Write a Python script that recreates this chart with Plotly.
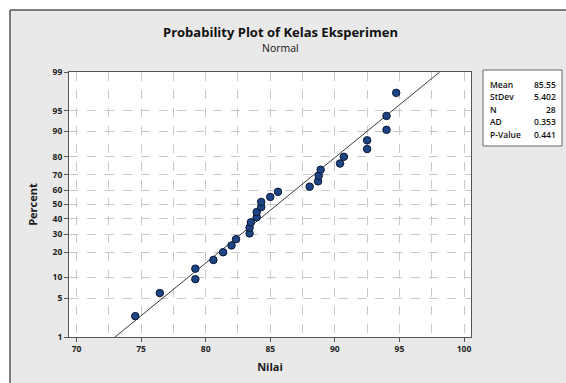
import plotly.graph_objects as go
from statistics import NormalDist

# ---- data ----
nilai = [74.55, 76.45, 79.2, 79.2, 80.6, 81.35, 82.0, 82.35, 83.4, 83.4, 83.5,
         83.95, 83.95, 84.3, 84.3, 85.0, 85.6, 88.05, 88.7, 88.75, 88.9, 90.4,
         90.7, 92.5, 92.5, 94.0, 94.0, 94.75]
percent = [2.5, 6.0, 9.5, 13.0, 16.5, 20.1, 23.6, 27.1, 30.6, 34.2, 37.7, 41.2,
           44.7, 48.2, 51.8, 55.3, 58.8, 62.3, 65.8, 69.4, 72.9, 76.4, 79.9,
           83.5, 87.0, 90.5, 94.0, 97.5]
percent_ticks = [1, 5, 10, 20, 30, 40, 50, 60, 70, 80, 90, 95, 99]
x_ticks = [70, 75, 80, 85, 90, 95, 100]
stat_labels = ["Mean", "StDev", "N", "AD", "P-Value"]
stat_values = ["85.55", "5.402", "28", "0.353", "0.441"]
mean_val = 85.55
stdev_val = 5.402

nd = NormalDist()
def z(p):
    return nd.inv_cdf(p / 100.0)

W, H = 566, 383
L, R, T, B = 69, 95, 72, 46
PW, PH = W - L - R, H - T - B

def px(xp):
    return (xp - L) / PW

def py(yp):
    return (H - B - yp) / PH

fig = go.Figure()

# fitted line
zl = [z(percent_ticks[0]), z(percent_ticks[-1])]
fig.add_trace(go.Scatter(
    x=[mean_val + stdev_val * v for v in zl], y=zl, mode="lines",
    line=dict(color="#3a3a3a", width=1), hoverinfo="skip", showlegend=False))

fig.add_trace(go.Scatter(
    x=nilai, y=[z(p) for p in percent], mode="markers",
    marker=dict(size=7.5, color="#1d4484", line=dict(color="#0b1833", width=1)),
    showlegend=False))

font_main = "Open Sans"

fig.update_layout(
    width=W, height=H,
    margin=dict(l=L, r=R, t=T, b=B, pad=0),
    paper_bgcolor="#e9e9e9", plot_bgcolor="white",
    font=dict(family=font_main, color="#1a1a1a"),
    xaxis=dict(range=[69.42, 100.54], tickvals=x_ticks,
               ticktext=[str(v) for v in x_ticks], tickangle=0,
               showgrid=True, gridcolor="#c8c8c8", griddash="dash", gridwidth=1,
               minor=dict(dtick=2.5, tick0=70, showgrid=True, gridcolor="#c8c8c8",
                          griddash="dash", ticks=""),
               ticks="outside", ticklen=4, tickcolor="#555",
               showline=True, linecolor="#555", linewidth=1, mirror=True,
               zeroline=False,
               tickfont=dict(size=8.5, weight="bold", color="#222"),
               title=dict(text="Nilai", font=dict(size=11, weight="bold"), standoff=10)),
    yaxis=dict(range=[z(1), z(99)], tickvals=[z(p) for p in percent_ticks],
               ticktext=[str(p) for p in percent_ticks], tickangle=0,
               showgrid=True, gridcolor="#c8c8c8", griddash="dash", gridwidth=1,
               ticks="outside", ticklen=4, tickcolor="#555",
               showline=True, linecolor="#555", linewidth=1, mirror=True,
               zeroline=False,
               tickfont=dict(size=8.5, weight="bold", color="#222"),
               title=dict(text="Percent", font=dict(size=11, weight="bold"), standoff=12)),
)

shapes = []
# white outer strips and frame border
shapes.append(dict(type="rect", xref="paper", yref="paper", x0=-1, x1=2,
                   y0=py(10), y1=py(-20), fillcolor="white", line=dict(width=0)))
shapes.append(dict(type="rect", xref="paper", yref="paper", x0=px(-20), x1=px(10),
                   y0=py(H + 20), y1=py(10), fillcolor="white", line=dict(width=0)))
shapes.append(dict(type="line", xref="paper", yref="paper", x0=px(10), x1=px(W + 20),
                   y0=py(10), y1=py(10), line=dict(color="#555", width=1.5)))
shapes.append(dict(type="line", xref="paper", yref="paper", x0=px(10), x1=px(10),
                   y0=py(10), y1=py(H + 20), line=dict(color="#555", width=1.5)))
# stats box
shapes.append(dict(type="rect", xref="paper", yref="paper", x0=px(483), x1=px(562),
                   y0=py(146), y1=py(70), fillcolor="white",
                   line=dict(color="#666", width=1)))
fig.update_layout(shapes=shapes)

ann = []
ann.append(dict(text="Probability Plot of Kelas Eksperimen", xref="paper", yref="paper",
                x=px(280), y=py(32), showarrow=False, xanchor="center", yanchor="middle",
                font=dict(size=13, weight="bold", color="#111")))
ann.append(dict(text="Normal", xref="paper", yref="paper",
                x=px(280), y=py(48), showarrow=False, xanchor="center", yanchor="middle",
                font=dict(size=10.5, color="#111")))
row_y = [84, 96.5, 109, 121.5, 134]
for lab, val, yy in zip(stat_labels, stat_values, row_y):
    ann.append(dict(text=lab, xref="paper", yref="paper", x=px(488), y=py(yy),
                    showarrow=False, xanchor="left", yanchor="middle",
                    font=dict(size=8.5, color="#111", weight=600)))
    ann.append(dict(text=val, xref="paper", yref="paper", x=px(558), y=py(yy),
                    showarrow=False, xanchor="right", yanchor="middle",
                    font=dict(size=8.5, color="#111", weight=600)))
fig.update_layout(annotations=ann)

fig.write_html("out.html",
               config={"displayModeBar": False},
               post_script="document.body.style.margin='0';"
                           "document.body.style.overflow='hidden';")
